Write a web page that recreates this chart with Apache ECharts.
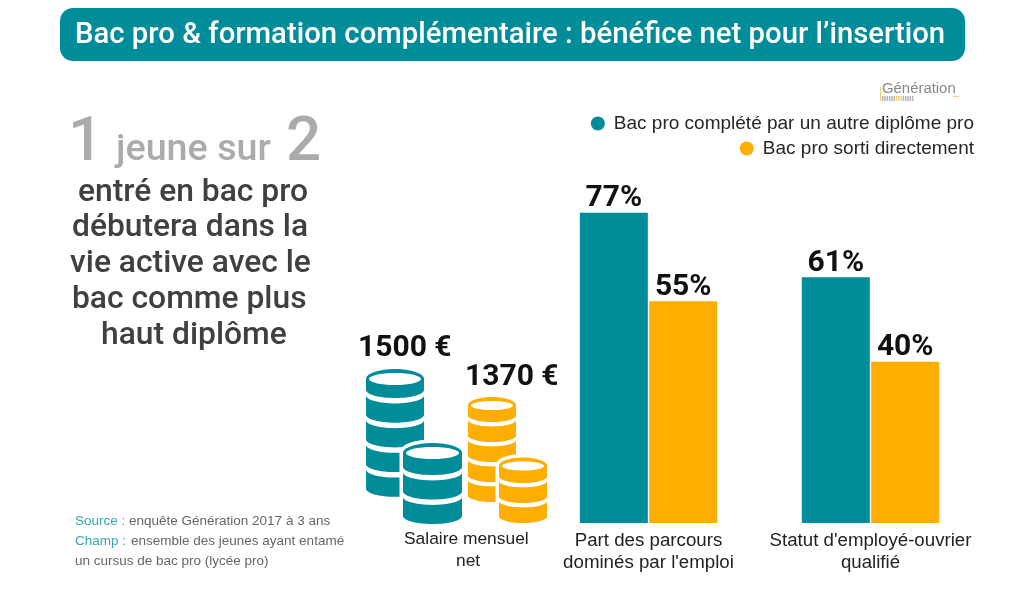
<!DOCTYPE html>
<html><head><meta charset="utf-8">
<style>html,body{margin:0;padding:0;background:#fff}#c{width:1024px;height:589px}</style>
<script src="https://cdn.jsdelivr.net/npm/echarts@6/dist/echarts.min.js"></script>
</head><body><div id="c"></div>
<script>
const categories = ["Part des parcours\ndominés par l'emploi", "Statut d'employé-ouvrier\nqualifié"];
const seriesNames = ["Bac pro complété par un autre diplôme pro", "Bac pro sorti directement"];
const completed = [77, 61];
const direct = [55, 40];
const salaries = [1500, 1370];
const titleText = "Bac pro & formation complémentaire : bénéfice net pour l’insertion";
const bodyLines = ["entré en bac pro", "débutera dans la", "vie active avec le", "bac comme plus", "haut diplôme"];
const TEAL = "#008c99", ORANGE = "#fdae00";
const ROBOTO = "Roboto", ARIAL = "'Liberation Sans'";

// half-ellipse outline from left to right; dir=-1 bulges upward, dir=1 bulges downward
function arc(cx, y, rx, ry, dir) {
  const pts = [];
  for (let i = 0; i <= 32; i++) {
    const a = Math.PI * i / 32;
    pts.push([cx - rx * Math.cos(a), y + dir * ry * Math.sin(a)]);
  }
  return pts;
}
function band(cx, topY, rx, ryTop, topDir, botY, ryBot, fill, z, extra) {
  const pts = arc(cx, topY, rx, ryTop, topDir).concat(arc(cx, botY, rx, ryBot, 1).reverse());
  return { type: "polygon", z: z, shape: { points: pts }, style: Object.assign({ fill: fill }, extra || {}) };
}
function stack(cx, cy, rx, ryTop, ryBot, sideH, pitch, n, color, halo, z0) {
  const els = [];
  const gap = pitch * 0.22;
  const lastBottom = cy + sideH + (n - 1) * pitch;
  if (halo) els.push(band(cx, cy, rx, ryTop, -1, lastBottom, ryBot, "#fff", z0, { stroke: "#fff", lineWidth: 7 }));
  els.push(band(cx, cy, rx, ryTop, -1, cy + sideH, ryBot, color, z0 + 1));
  els.push({ type: "ellipse", z: z0 + 2, shape: { cx: cx, cy: cy, rx: rx - 3, ry: ryTop - 4 }, style: { fill: "#fff" } });
  for (let k = 1; k < n; k++) {
    els.push(band(cx, cy + sideH + (k - 1) * pitch + gap, rx, ryBot, 1, cy + sideH + k * pitch, ryBot, color, z0 + 1));
  }
  return els;
}
function txt(x, y, text, font, fill, align) {
  return { type: "text", z: 20, x: x, y: y, style: { text: text, font: font, fill: fill, align: align || "left", verticalAlign: "middle" } };
}
const bodyX = [78, 72, 70, 72, 101], bodyY = [193, 228, 264, 300, 336];
const barcode = [];
for (let i = 0; i < 14; i++) {
  barcode.push({ type: "rect", z: 9, shape: { x: 882 + i * 2.3, y: 96, width: 1.5, height: 5 }, style: { fill: (i > 5 && i < 9) ? "#f3cf7c" : "#b5b5b5" } });
}
const graphics = [
  { type: "rect", z: 1, shape: { x: 60, y: 8, width: 905, height: 53, r: 13 }, style: { fill: TEAL } },
  txt(75, 36, titleText, `500 29.3px ${ROBOTO}`, "#fff"),
  txt(68, 144, "1", `500 62px ${ROBOTO}`, "#ababab"),
  txt(116, 151, "jeune sur", `500 37.7px ${ROBOTO}`, "#ababab"),
  txt(286, 144, "2", `500 62px ${ROBOTO}`, "#ababab"),
  ...bodyLines.map((t, i) => txt(bodyX[i], bodyY[i], t, `500 31.8px ${ROBOTO}`, "#404040")),
  txt(882, 89, "Génération", `14.9px ${ARIAL}`, "#888"),
  { type: "rect", z: 9, shape: { x: 880, y: 87, width: 1, height: 14 }, style: { fill: "#f3cf7c" } },
  { type: "rect", z: 9, shape: { x: 953, y: 96, width: 6, height: 1 }, style: { fill: "#f3cf7c" } },
  ...barcode,
  txt(75, 521, "Source :", `13.5px ${ARIAL}`, "#3aa6b0"),
  txt(129, 521, "enquête Génération 2017 à 3 ans", `13.5px ${ARIAL}`, "#666"),
  txt(75, 541, "Champ :", `13.5px ${ARIAL}`, "#3aa6b0"),
  txt(131, 541, "ensemble des jeunes ayant entamé", `13.5px ${ARIAL}`, "#666"),
  txt(75, 561, "un cursus de bac pro (lycée pro)", `13.5px ${ARIAL}`, "#666"),
  txt(358, 348, salaries[0] + " €", `700 30px ${ROBOTO}`, "#111"),
  txt(465, 377, salaries[1] + " €", `700 30px ${ROBOTO}`, "#111"),
  txt(404, 539, "Salaire mensuel", `17.4px ${ARIAL}`, "#222"),
  txt(456, 561, "net", `17.4px ${ARIAL}`, "#222"),
  ...stack(395, 379, 29, 10, 8, 11, 24.7, 5, TEAL, false, 5),
  ...stack(432.5, 453, 29.5, 10, 8, 14, 24.5, 3, TEAL, true, 10),
  ...stack(492, 405.5, 24, 8.5, 6.5, 10, 20, 5, ORANGE, false, 5),
  ...stack(523, 466, 24, 8.5, 6.5, 10.5, 20, 3, ORANGE, true, 10)
];

const chart = echarts.init(document.getElementById("c"), null, { renderer: "canvas" });
const legendBase = { orient: "horizontal", right: 45, icon: "circle", itemWidth: 14, itemHeight: 14, itemGap: 0,
  textStyle: { fontFamily: ARIAL, fontSize: 19, color: "#262626", padding: [0, 0, 0, 4] } };
const barLabel = { show: true, position: "top", distance: -1, formatter: "{c}%", fontFamily: ROBOTO, fontWeight: 700, fontSize: 30, color: "#111" };
chart.setOption({
  animation: false,
  backgroundColor: "#fff",
  legend: [
    Object.assign({ data: [seriesNames[0]], top: 109 }, legendBase),
    Object.assign({ data: [seriesNames[1]], top: 134 }, legendBase)
  ],
  grid: { left: 537.5, width: 444, top: 120, height: 403 },
  xAxis: { type: "category", data: categories,
    axisLine: { show: false }, axisTick: { show: false },
    axisLabel: { interval: 0, margin: 7, fontFamily: ARIAL, fontSize: 18.7, lineHeight: 22, color: "#222" } },
  yAxis: { type: "value", min: 0, max: 100, show: false, splitLine: { show: false } },
  series: [
    { name: seriesNames[0], type: "bar", data: completed, barWidth: 68, barGap: "2%", itemStyle: { color: TEAL }, label: barLabel },
    { name: seriesNames[1], type: "bar", data: direct, barWidth: 68, itemStyle: { color: ORANGE }, label: barLabel }
  ],
  graphic: graphics
});
</script></body></html>
